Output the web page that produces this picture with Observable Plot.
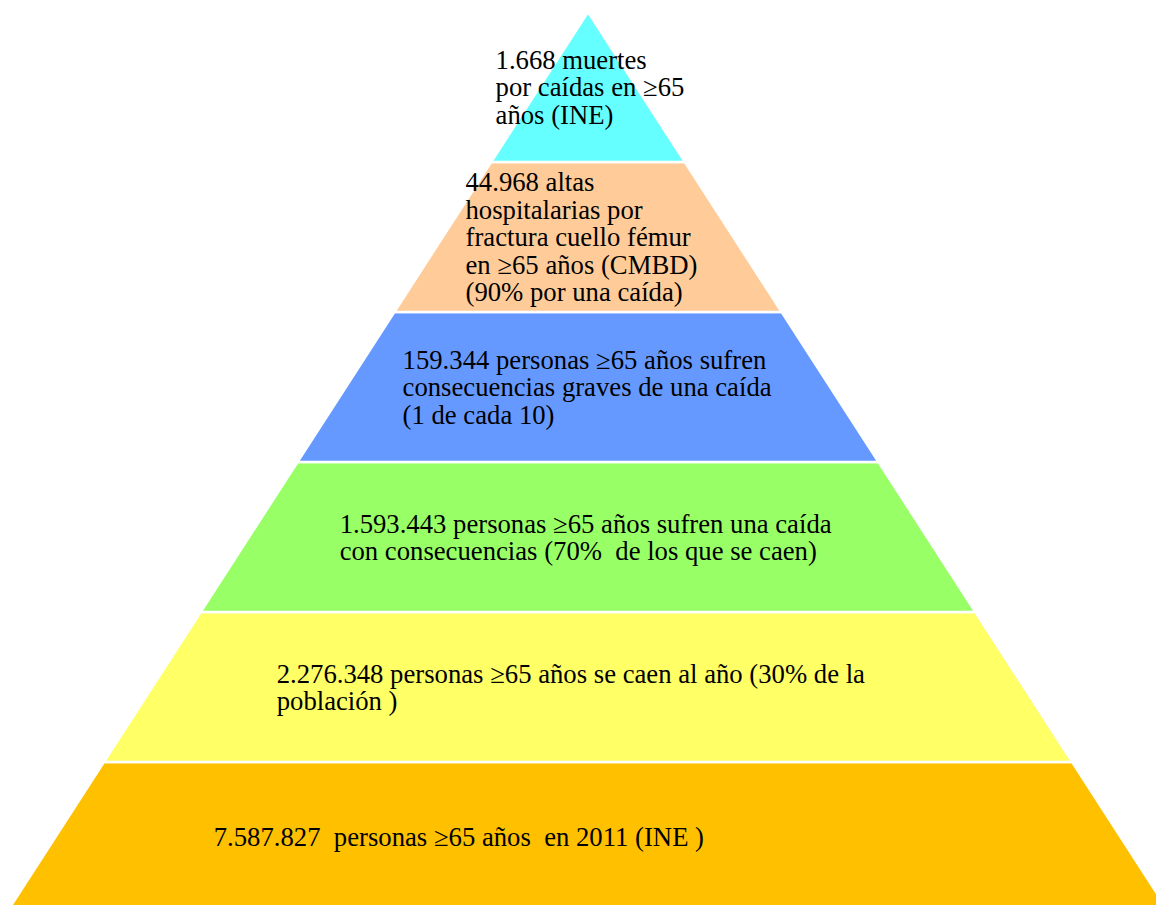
<!DOCTYPE html>
<html>
<head>
<meta charset="utf-8">
<script src="https://cdn.jsdelivr.net/npm/d3@7"></script>
<script src="https://cdn.jsdelivr.net/npm/@observablehq/plot@0.6"></script>
<style>
  html, body { margin: 0; padding: 0; background: #fff; }
  svg text { white-space: pre; font-family: "Liberation Serif", "Times New Roman", Times, serif !important; }
</style>
</head>
<body>
<div id="chart"></div>
<script>
// Pyramid levels, bottom (0) to top (5)
const levels = ["población", "caídas", "consecuencias", "graves", "fractura", "muertes"];
const labels = [
  "7.587.827  personas ≥65 años  en 2011 (INE )",
  "2.276.348 personas ≥65 años se caen al año (30% de la\npoblación )",
  "1.593.443 personas ≥65 años sufren una caída\ncon consecuencias (70%  de los que se caen)",
  "159.344 personas ≥65 años sufren\nconsecuencias graves de una caída\n(1 de cada 10)",
  "44.968 altas\nhospitalarias por\nfractura cuello fémur\nen ≥65 años (CMBD)\n(90% por una caída)",
  "1.668 muertes\npor caídas en ≥65\naños (INE)"
];
const colors = ["#FFC000", "#FFFF66", "#99FF66", "#6699FF", "#FFCC99", "#66FFFF"];

// layout: left edge of each label block (in pyramid half-width units)
const labelLeft = [-3.87, -3.22, -2.57, -1.92, -1.27, -0.96];

const n = levels.length;
const halfWidth = (l) => n - l;

// build band polygons (areaX: two rows per band)
const bandRows = levels.flatMap((name, i) => [i, i + 1].map(l => ({
  band: name, level: l, x1: -halfWidth(l), x2: halfWidth(l), color: colors[i]
})));
const labelRows = levels.map((name, i) => ({
  band: name, level: i + 0.5, x: labelLeft[i], text: labels[i]
}));

const chart = Plot.plot({
  width: 1156,
  height: 905,
  margin: 0,
  style: { background: "#fff" },
  x: { domain: [-n, n], range: [7, 1169], axis: null },
  y: { domain: [0, n], range: [912, 12], axis: null },
  marks: [
    Plot.areaX(bandRows, {
      y: "level", x1: "x1", x2: "x2", z: "band",
      fill: "color", stroke: "white", strokeWidth: 2.5, curve: "linear"
    }),
    Plot.text(labelRows, {
      x: "x", y: "level", text: "text",
      textAnchor: "start", lineAnchor: "middle", lineHeight: 1.03,
      fontSize: 26.7, fill: "black",
      fontFamily: "Liberation Serif"
    })
  ]
});
document.getElementById("chart").appendChild(chart);
</script>
</body>
</html>
